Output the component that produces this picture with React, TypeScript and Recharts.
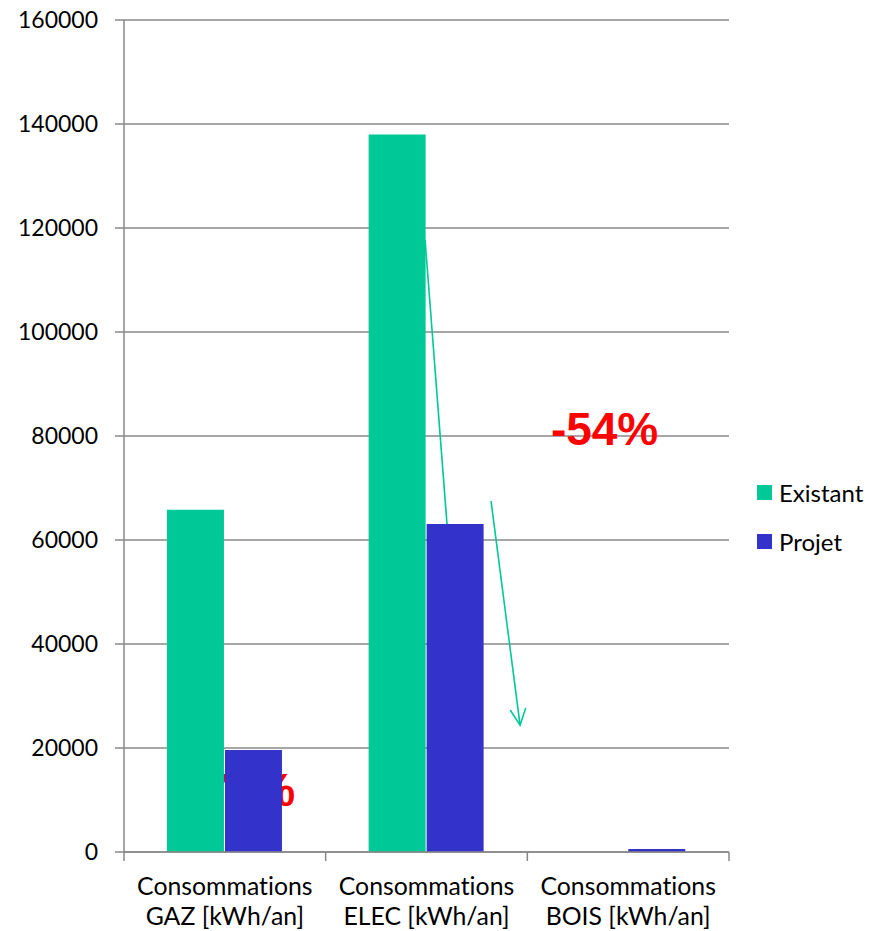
import React from "react"
import {
  BarChart,
  Bar,
  XAxis,
  YAxis,
  CartesianGrid,
  Legend,
  ReferenceLine,
  ReferenceDot,
} from "recharts"

// category labels (first word on line 1, rest on line 2)
const categories = [
  "Consommations GAZ [kWh/an]",
  "Consommations ELEC [kWh/an]",
  "Consommations BOIS [kWh/an]",
]
const existant = [65800, 138000, 0]
const projet = [19600, 63100, 600]
const yTicks = [0, 20000, 40000, 60000, 80000, 100000, 120000, 140000, 160000]

// annotations, x in category units (0..3) on a hidden numeric axis
const arrowHidden = [{ x: 1.493, y: 117700 }, { x: 1.602, y: 62900 }]
const arrowShown = [{ x: 1.82, y: 67500 }, { x: 1.964, y: 24400 }]
const labelGaz = { x: 0.582, y: 12000, text: "-70%" }
const labelElec = { x: 2.383, y: 81400, text: "-54%" }

const data = categories.map((name, i) => ({
  name,
  pos: i + 0.5,
  existant: existant[i],
  projet: projet[i],
}))

const GREEN = "#00C896"
const BLUE = "#3333CC"
const GRID = "#888888"
const FONT = "Lato, 'Liberation Sans', sans-serif"
const NOLIG = { fontVariantLigatures: "none" } as React.CSSProperties

function CategoryTick(props: any) {
  const { x, y, payload, index, width, visibleTicksCount } = props
  const half = width / visibleTicksCount / 2
  const text: string = payload.value
  const cut = text.indexOf(" ")
  const l1 = text.slice(0, cut)
  const l2 = text.slice(cut + 1)
  return (
    <g>
      <line x1={x - half} y1={y} x2={x - half} y2={y + 9} stroke={GRID} strokeWidth={1.5} />
      {index === visibleTicksCount - 1 && (
        <line x1={x + half} y1={y} x2={x + half} y2={y + 9} stroke={GRID} strokeWidth={1.5} />
      )}
      <text x={x} y={y + 43} textAnchor="middle" fill="#000" fontSize={24.8} fontFamily={FONT} style={NOLIG}>
        {l1}
      </text>
      <text x={x} y={y + 73} textAnchor="middle" fill="#000" fontSize={24.8} fontFamily={FONT} style={NOLIG}>
        {l2}
      </text>
    </g>
  )
}

function Arrow(props: any, head: boolean) {
  const { x1, y1, x2, y2 } = props
  const ang = Math.atan2(y2 - y1, x2 - x1)
  const len = 18
  const spread = 0.45
  const ax = x2 - len * Math.cos(ang - spread)
  const ay = y2 - len * Math.sin(ang - spread)
  const bx = x2 - len * Math.cos(ang + spread)
  const by = y2 - len * Math.sin(ang + spread)
  return (
    <g>
      <line x1={x1} y1={y1} x2={x2} y2={y2} stroke={GREEN} strokeWidth={1.6} />
      {head && (
        <polyline
          points={`${ax},${ay} ${x2},${y2} ${bx},${by}`}
          fill="none"
          stroke={GREEN}
          strokeWidth={1.6}
        />
      )}
    </g>
  )
}

function BigLabel(text: string) {
  return (props: any) => (
    <text
      x={props.cx}
      y={props.cy}
      textAnchor="middle"
      dominantBaseline="central"
      fill="#FF0000"
      fontSize={46}
      fontWeight="bold"
      fontFamily="'Liberation Sans', Arial, sans-serif"
    >
      {text}
    </text>
  )
}

function LegendBox() {
  const items = [
    { name: "Existant", color: GREEN },
    { name: "Projet", color: BLUE },
  ]
  return (
    <div style={{ fontFamily: FONT, fontSize: 24, color: "#000" }}>
      {items.map((it) => (
        <div key={it.name} style={{ display: "flex", alignItems: "center", height: 49 }}>
          <span style={{ width: 15, height: 15, background: it.color, marginRight: 7 }} />
          {it.name}
        </div>
      ))}
    </div>
  )
}

export default function App() {
  return (
    <div style={{ position: "absolute", left: 0, top: 0, width: 871, height: 931, background: "#fff" }}>
      <BarChart
        width={871}
        height={931}
        data={data}
        margin={{ top: 20, right: 32, left: 0, bottom: 0 }}
        barCategoryGap="21.3%"
        barGap={1}
      >
        <CartesianGrid vertical={false} stroke={GRID} strokeWidth={1.5} />
        <XAxis
          dataKey="name"
          height={79}
          tickLine={false}
          tickSize={0}
          tickMargin={0}
          axisLine={{ stroke: GRID, strokeWidth: 1.5 }}
          tick={<CategoryTick />}
          interval={0}
        />
        <XAxis
          xAxisId="n"
          dataKey="pos"
          type="number"
          domain={[0, 3]}
          hide
          allowDataOverflow
        />
        <YAxis
          width={124}
          domain={[0, 160000]}
          ticks={yTicks}
          interval={0}
          tickSize={9}
          tickMargin={17}
          axisLine={{ stroke: GRID, strokeWidth: 1.5 }}
          tickLine={{ stroke: GRID, strokeWidth: 1.5 }}
          tick={{ fill: "#000", fontSize: 23, fontFamily: FONT }}
        />
        <Legend
          layout="vertical"
          align="right"
          verticalAlign="middle"
          content={<LegendBox />}
          wrapperStyle={{ width: 110, left: 757, top: 468 }}
        />
        <ReferenceDot
          xAxisId="n"
          x={labelGaz.x}
          y={labelGaz.y}
          r={0}
          zIndex={250}
          shape={BigLabel(labelGaz.text)}
        />
        <ReferenceLine
          xAxisId="n"
          segment={arrowHidden}
          zIndex={250}
          shape={(p: any) => Arrow(p, false)}
        />
        <Bar dataKey="existant" name="Existant" fill={GREEN} isAnimationActive={false} />
        <Bar dataKey="projet" name="Projet" fill={BLUE} isAnimationActive={false} />
        <ReferenceLine
          xAxisId="n"
          segment={arrowShown}
          shape={(p: any) => Arrow(p, true)}
        />
        <ReferenceDot
          xAxisId="n"
          x={labelElec.x}
          y={labelElec.y}
          r={0}
          shape={BigLabel(labelElec.text)}
        />
      </BarChart>
    </div>
  )
}
